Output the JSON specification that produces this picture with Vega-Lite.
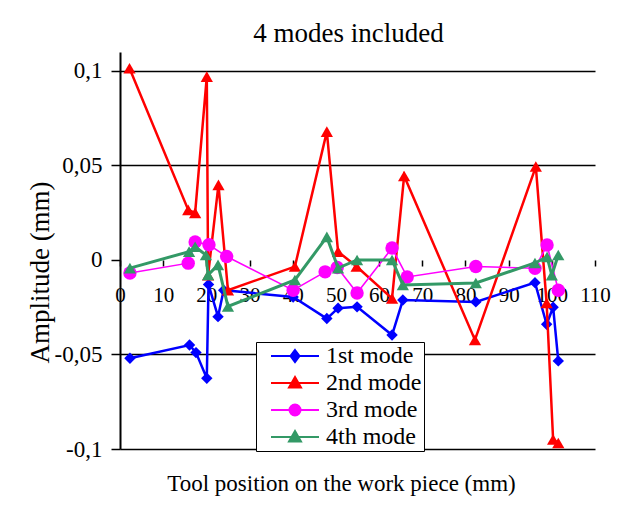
{
  "$schema": "https://vega.github.io/schema/vega-lite/v6.json",
  "width": 475,
  "height": 397,
  "autosize": {"type": "none"},
  "padding": {"left": 120, "top": 52, "right": 31, "bottom": 57},
  "background": "white",
  "title": {"text": "4 modes included", "font": "'Liberation Serif', 'Times New Roman', serif", "fontSize": 27, "fontWeight": "normal", "color": "black", "anchor": "middle", "dx": -9, "offset": 4},
  "config": {"view": {"stroke": null}},
  "data": {"values": [
    {"x": 2.3, "y": -0.052, "mode": "1st mode"},
    {"x": 16.1, "y": -0.045, "mode": "1st mode"},
    {"x": 17.6, "y": -0.049, "mode": "1st mode"},
    {"x": 20.1, "y": -0.0626, "mode": "1st mode"},
    {"x": 20.5, "y": -0.013, "mode": "1st mode"},
    {"x": 22.7, "y": -0.030, "mode": "1st mode"},
    {"x": 24.0, "y": -0.016, "mode": "1st mode"},
    {"x": 40.1, "y": -0.0196, "mode": "1st mode"},
    {"x": 47.9, "y": -0.031, "mode": "1st mode"},
    {"x": 50.5, "y": -0.0255, "mode": "1st mode"},
    {"x": 54.9, "y": -0.0248, "mode": "1st mode"},
    {"x": 63.0, "y": -0.0397, "mode": "1st mode"},
    {"x": 65.5, "y": -0.0212, "mode": "1st mode"},
    {"x": 82.4, "y": -0.0222, "mode": "1st mode"},
    {"x": 96.1, "y": -0.012, "mode": "1st mode"},
    {"x": 98.8, "y": -0.034, "mode": "1st mode"},
    {"x": 100.3, "y": -0.025, "mode": "1st mode"},
    {"x": 101.5, "y": -0.0534, "mode": "1st mode"},
    {"x": 2.2, "y": 0.1014, "mode": "2nd mode"},
    {"x": 15.8, "y": 0.0265, "mode": "2nd mode"},
    {"x": 17.4, "y": 0.0249, "mode": "2nd mode"},
    {"x": 20.1, "y": 0.097, "mode": "2nd mode"},
    {"x": 20.4, "y": -0.008, "mode": "2nd mode"},
    {"x": 22.8, "y": 0.0397, "mode": "2nd mode"},
    {"x": 25.0, "y": -0.016, "mode": "2nd mode"},
    {"x": 40.5, "y": -0.0035, "mode": "2nd mode"},
    {"x": 47.9, "y": 0.0679, "mode": "2nd mode"},
    {"x": 50.5, "y": 0.0044, "mode": "2nd mode"},
    {"x": 54.8, "y": -0.0035, "mode": "2nd mode"},
    {"x": 63.0, "y": -0.0203, "mode": "2nd mode"},
    {"x": 65.8, "y": 0.0444, "mode": "2nd mode"},
    {"x": 82.2, "y": -0.0423, "mode": "2nd mode"},
    {"x": 96.3, "y": 0.0494, "mode": "2nd mode"},
    {"x": 98.8, "y": -0.0228, "mode": "2nd mode"},
    {"x": 100.3, "y": -0.095, "mode": "2nd mode"},
    {"x": 101.5, "y": -0.0968, "mode": "2nd mode"},
    {"x": 2.3, "y": -0.0069, "mode": "3rd mode"},
    {"x": 15.8, "y": -0.0017, "mode": "3rd mode"},
    {"x": 17.4, "y": 0.0095, "mode": "3rd mode"},
    {"x": 20.6, "y": 0.008, "mode": "3rd mode"},
    {"x": 24.7, "y": 0.0018, "mode": "3rd mode"},
    {"x": 40.1, "y": -0.016, "mode": "3rd mode"},
    {"x": 47.5, "y": -0.0063, "mode": "3rd mode"},
    {"x": 50.3, "y": -0.004, "mode": "3rd mode"},
    {"x": 54.9, "y": -0.0175, "mode": "3rd mode"},
    {"x": 63.0, "y": 0.0063, "mode": "3rd mode"},
    {"x": 66.5, "y": -0.009, "mode": "3rd mode"},
    {"x": 82.4, "y": -0.0035, "mode": "3rd mode"},
    {"x": 96.1, "y": -0.0044, "mode": "3rd mode"},
    {"x": 98.9, "y": 0.0079, "mode": "3rd mode"},
    {"x": 101.5, "y": -0.016, "mode": "3rd mode"},
    {"x": 2.3, "y": -0.0043, "mode": "4th mode"},
    {"x": 16.0, "y": 0.0044, "mode": "4th mode"},
    {"x": 17.4, "y": 0.007, "mode": "4th mode"},
    {"x": 19.9, "y": 0.0026, "mode": "4th mode"},
    {"x": 20.4, "y": -0.0079, "mode": "4th mode"},
    {"x": 22.7, "y": -0.0026, "mode": "4th mode"},
    {"x": 25.0, "y": -0.0246, "mode": "4th mode"},
    {"x": 40.5, "y": -0.0106, "mode": "4th mode"},
    {"x": 47.9, "y": 0.0122, "mode": "4th mode"},
    {"x": 50.5, "y": -0.0043, "mode": "4th mode"},
    {"x": 54.9, "y": 0.0, "mode": "4th mode"},
    {"x": 63.0, "y": 0.0, "mode": "4th mode"},
    {"x": 65.5, "y": -0.0132, "mode": "4th mode"},
    {"x": 82.4, "y": -0.0122, "mode": "4th mode"},
    {"x": 96.1, "y": -0.0016, "mode": "4th mode"},
    {"x": 98.9, "y": 0.0016, "mode": "4th mode"},
    {"x": 100.0, "y": -0.008, "mode": "4th mode"},
    {"x": 101.5, "y": 0.0026, "mode": "4th mode"}
  ]},
  "encoding": {
    "x": {"field": "x", "type": "quantitative",
      "scale": {"domain": [0, 110], "nice": false, "zero": false},
      "axis": {"values": [0, 10, 20, 30, 40, 50, 60, 70, 80, 90, 100, 110], "grid": false, "domain": false,
        "offset": -189, "tickSize": 6, "tickColor": "black", "tickWidth": 1.5,
        "labelFont": "'Liberation Serif', 'Times New Roman', serif", "labelFontSize": 21, "labelColor": "black", "labelPadding": 18, "labelOverlap": false, "labelFlush": false,
        "title": "Tool position on the work piece (mm)", "titleFont": "'Liberation Serif', 'Times New Roman', serif", "titleFontSize": 23, "titleFontWeight": "normal", "titleColor": "black",
        "titleX": 221, "titleY": 223, "titleBaseline": "middle", "titleAnchor": null}},
    "y": {"field": "y", "type": "quantitative",
      "scale": {"domain": [-0.1, 0.11], "nice": false, "zero": false},
      "axis": {"values": [-0.1, -0.05, 0, 0.05, 0.1], "labelExpr": "replace(toString(datum.value), '.', ',')",
        "grid": true, "gridColor": {"condition": {"test": "datum.value === 0", "value": "transparent"}, "value": "black"}, "gridWidth": 1.3,
        "domainColor": "black", "domainWidth": 2, "tickSize": 9, "tickColor": "black", "tickWidth": 1.5,
        "labelFont": "'Liberation Serif', 'Times New Roman', serif", "labelFontSize": 23, "labelColor": "black", "labelPadding": 9,
        "title": "Amplitude (mm)", "titleFont": "'Liberation Serif', 'Times New Roman', serif", "titleFontSize": 27, "titleFontWeight": "normal", "titleColor": "black",
        "titleX": -80, "titleY": 220, "titleBaseline": "middle", "titleAnchor": null}}
  },
  "layer": [
    {"transform": [{"filter": "datum.mode === '1st mode'"}],
     "mark": {"type": "line", "strokeWidth": 2.5, "color": "#0000ff", "point": {"shape": "diamond", "size": 130, "filled": true, "color": "#0000ff"}}},
    {"transform": [{"filter": "datum.mode === '2nd mode'"}],
     "mark": {"type": "line", "strokeWidth": 2.5, "color": "#ff0000", "point": {"shape": "triangle-up", "size": 150, "filled": true, "color": "#ff0000"}}},
    {"transform": [{"filter": "datum.mode === '3rd mode'"}],
     "mark": {"type": "line", "strokeWidth": 1.6, "color": "#ff00ff", "point": {"shape": "circle", "size": 180, "filled": true, "color": "#ff00ff"}}},
    {"transform": [{"filter": "datum.mode === '4th mode'"}],
     "mark": {"type": "line", "strokeWidth": 3, "color": "#339966", "point": {"shape": "triangle-up", "size": 150, "filled": true, "color": "#339966"}}},
    {"mark": {"type": "point", "opacity": 0, "size": 400, "filled": true},
     "encoding": {
       "fill": {"field": "mode", "type": "nominal", "scale": {"domain": ["1st mode", "2nd mode", "3rd mode", "4th mode"], "range": ["#0000ff", "#ff0000", "#ff00ff", "#339966"]},
         "legend": {"orient": "none", "legendX": 136, "legendY": 290, "title": null, "padding": 2, "strokeColor": "black", "fillColor": "white",
           "labelFont": "'Liberation Serif', 'Times New Roman', serif", "labelFontSize": 24, "labelColor": "black", "labelOffset": 44, "symbolSize": 400, "symbolStrokeWidth": 2,
           "rowPadding": 3, "symbolOpacity": 1,
           "encode": {"symbols": {"update": {"opacity": {"value": 1}, "fillOpacity": {"value": 1}, "strokeOpacity": {"value": 1}}}}}},
       "stroke": {"field": "mode", "type": "nominal", "scale": {"domain": ["1st mode", "2nd mode", "3rd mode", "4th mode"], "range": ["#0000ff", "#ff0000", "#ff00ff", "#339966"]}},
       "shape": {"field": "mode", "type": "nominal", "scale": {"domain": ["1st mode", "2nd mode", "3rd mode", "4th mode"], "range": [
         "M0.1,0H4.9M2.5,-0.6L2.95,0L2.5,0.6L2.05,0Z",
         "M0.1,0H4.9M2.5,-0.6L3.1,0.45L1.9,0.45Z",
         "M0.1,0H4.9M1.95,0A0.55,0.55,0,1,0,3.05,0A0.55,0.55,0,1,0,1.95,0Z",
         "M0.1,0H4.9M2.5,-0.6L3.1,0.45L1.9,0.45Z"]}}
     }}
  ]
}
